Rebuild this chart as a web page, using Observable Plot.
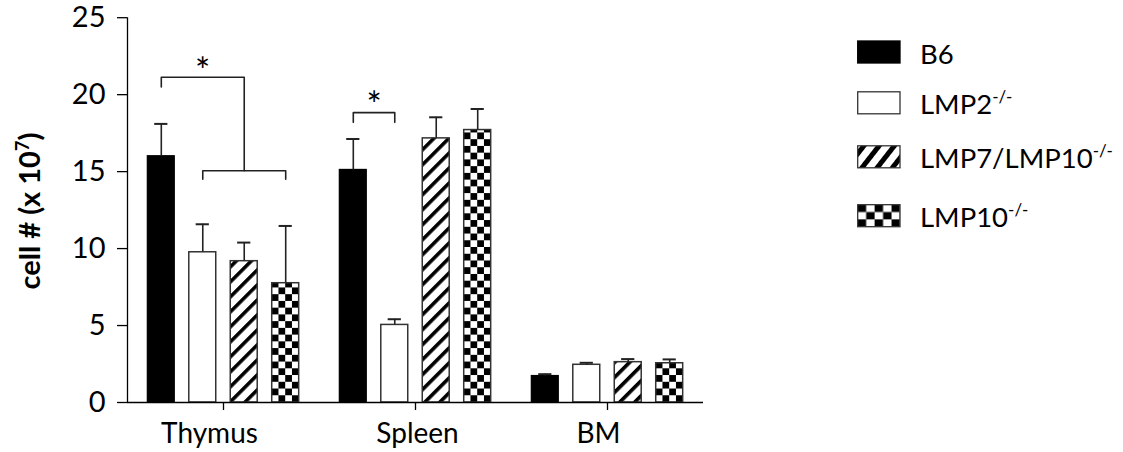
<!DOCTYPE html>
<html><head><meta charset="utf-8">
<script src="https://cdn.jsdelivr.net/npm/d3@7"></script>
<script src="https://cdn.jsdelivr.net/npm/@observablehq/plot@0.6"></script>
<style>
body{margin:0;background:#fff}
#chart{position:relative;width:1123px;height:452px}
#chart svg{display:block}
</style>
</head><body><div id="chart"></div>
<script>
// ---- data ----
const tissues = ["Thymus", "Spleen", "BM"];
const strains = ["B6", "LMP2", "LMP7/LMP10", "LMP10"];
const strainNames = ["B6", "LMP2", "LMP7/LMP10", "LMP10"];
const strainSup = ["", "-/-", "-/-", "-/-"];
const meanThymus = [16.0, 9.76, 9.18, 7.75];
const errThymus  = [2.1, 1.82, 1.21, 3.72];
const meanSpleen = [15.11, 5.04, 17.16, 17.7];
const errSpleen  = [2.01, 0.37, 1.37, 1.37];
const meanBM     = [1.72, 2.45, 2.62, 2.55];
const errBM      = [0.12, 0.13, 0.2, 0.25];
const yTicks = [0, 5, 10, 15, 20, 25];
// significance brackets (value units)
const thymusBracket = {upper: 21.13, upperLeg: 20.5, lower: 15.06, lowerLeg: 14.5, star: 21.44};
const spleenBracket = {top: 18.83, leg: 18.2, star: 19.25};

// ---- layout helpers ----
const inner = d3.scaleBand().domain(strains).range([0, 1]).paddingInner(0.35).paddingOuter(0.49);
const bw = inner.bandwidth();
const capHalf = bw * 0.245;
const means = [meanThymus, meanSpleen, meanBM];
const errs = [errThymus, errSpleen, errBM];
const rows = tissues.flatMap((t, ti) => strains.map((s, si) => ({
  tissue: t, strain: s, mean: means[ti][si], err: errs[ti][si],
  x1: ti + inner(s), x2: ti + inner(s) + bw, xc: ti + inner(s) + bw / 2
})));
const cx = (ti, s) => ti + inner(s) + bw / 2;
const byStrain = s => rows.filter(d => d.strain === s);

const brackets = [
  {k: "a", x: cx(0, "B6"), y: thymusBracket.upperLeg},
  {k: "a", x: cx(0, "B6"), y: thymusBracket.upper},
  {k: "a", x: cx(0, "LMP7/LMP10"), y: thymusBracket.upper},
  {k: "a", x: cx(0, "LMP7/LMP10"), y: thymusBracket.lower},
  {k: "b", x: cx(0, "LMP2"), y: thymusBracket.lowerLeg},
  {k: "b", x: cx(0, "LMP2"), y: thymusBracket.lower},
  {k: "b", x: cx(0, "LMP10"), y: thymusBracket.lower},
  {k: "b", x: cx(0, "LMP10"), y: thymusBracket.lowerLeg},
  {k: "c", x: cx(1, "B6"), y: spleenBracket.leg},
  {k: "c", x: cx(1, "B6"), y: spleenBracket.top},
  {k: "c", x: cx(1, "LMP2"), y: spleenBracket.top},
  {k: "c", x: cx(1, "LMP2"), y: spleenBracket.leg}
];
const stars = [
  {x: (cx(0, "B6") + cx(0, "LMP7/LMP10")) / 2, y: thymusBracket.star},
  {x: (cx(1, "B6") + cx(1, "LMP2")) / 2, y: spleenBracket.star}
];
const labelDx = [-14, 2, -9];
const ink = "#222";
const edge = "#333";

const plot = Plot.plot({
  width: 1123, height: 452,
  marginLeft: 127, marginRight: 420, marginTop: 17.2, marginBottom: 50,
  style: {fontFamily: "Lato, 'Open Sans', sans-serif", fontSize: "28px", color: "black", background: "white", overflow: "visible"},
  x: {domain: [0, 3]},
  y: {domain: [0, 25]},
  marks: [
    Plot.rect(byStrain("B6"), {x1: "x1", x2: "x2", y1: 0, y2: "mean", fill: "black", stroke: "black", strokeWidth: 1.2}),
    Plot.rect(byStrain("LMP2"), {x1: "x1", x2: "x2", y1: 0, y2: "mean", fill: "white", stroke: edge, strokeWidth: 1.5}),
    Plot.rect(byStrain("LMP7/LMP10"), {x1: "x1", x2: "x2", y1: 0, y2: "mean", fill: "url(#hatch)", stroke: edge, strokeWidth: 1.5}),
    Plot.rect(byStrain("LMP10"), {x1: "x1", x2: "x2", y1: 0, y2: "mean", fill: "url(#check)", stroke: edge, strokeWidth: 1.5}),
    Plot.ruleX(rows, {x: "xc", y1: "mean", y2: d => d.mean + d.err, stroke: ink, strokeWidth: 1.6}),
    Plot.ruleY(rows, {y: d => d.mean + d.err, x1: d => d.xc - capHalf, x2: d => d.xc + capHalf, stroke: ink, strokeWidth: 2}),
    Plot.line(brackets, {x: "x", y: "y", z: "k", stroke: ink, strokeWidth: 1.6, curve: "linear"}),
    Plot.text(stars, {x: "x", y: "y", text: () => "*", fontSize: 36, fill: "black"}),
    Plot.ruleX([0], {stroke: "black", strokeWidth: 1.3}),
    Plot.ruleY([0], {stroke: "black", strokeWidth: 1.3}),
    Plot.axisY({ticks: yTicks, tickSize: 10, tickPadding: 12, fontSize: 29, label: null, tickFormat: d => String(d), strokeWidth: 1.3}),
    Plot.axisX({ticks: [0.5, 1.5, 2.5], tickSize: 8, tickFormat: () => "", label: null, strokeWidth: 1.3}),
    ...tissues.map((t, i) => Plot.text([t], {x: () => i + 0.5, text: d => d, frameAnchor: "bottom", lineAnchor: "top", dy: 21, dx: labelDx[i], fontSize: 28, fill: "black"}))
  ]
});
document.getElementById("chart").appendChild(plot);

// ---- patterns, y label and legend ----
const svg = d3.select(plot);
const defs = svg.insert("defs", ":first-child");
const hatch = defs.append("pattern").attr("id", "hatch").attr("patternUnits", "userSpaceOnUse")
  .attr("width", 10.6).attr("height", 10.6).attr("patternTransform", "rotate(45)");
hatch.append("rect").attr("width", 10.6).attr("height", 10.6).attr("fill", "white");
hatch.append("rect").attr("width", 3.6).attr("height", 10.6).attr("fill", "black");

function checker(id, x, y, w, h) {
  const p = defs.append("pattern").attr("id", id).attr("patternUnits", "userSpaceOnUse")
    .attr("x", x).attr("y", y).attr("width", 2 * w).attr("height", 2 * h);
  p.append("rect").attr("width", 2 * w).attr("height", 2 * h).attr("fill", "white");
  p.append("rect").attr("width", w).attr("height", h).attr("fill", "black");
  p.append("rect").attr("x", w).attr("y", h).attr("width", w).attr("height", h).attr("fill", "black");
}
checker("check", 0, 0, 6.75, 6.75);
svg.selectAll("g[fill='url(#check)'] rect").each(function(_, i) {
  const x = +this.getAttribute("x"), y = +this.getAttribute("y"), w = +this.getAttribute("width"), h = +this.getAttribute("height");
  checker("check" + i, x, y + h, w / 4, w / 4);
  this.setAttribute("fill", "url(#check" + i + ")");
});

// legend hatch
const hatchL = defs.append("pattern").attr("id", "hatchL").attr("patternUnits", "userSpaceOnUse")
  .attr("width", 12).attr("height", 12).attr("patternTransform", "rotate(38)");
hatchL.append("rect").attr("width", 12).attr("height", 12).attr("fill", "white");
hatchL.append("rect").attr("width", 5).attr("height", 12).attr("fill", "black");

// y label
const yl = svg.append("text").attr("transform", "translate(40,211) rotate(-90)")
  .attr("text-anchor", "middle").attr("font-weight", "bold").attr("font-size", 29).attr("fill", "black");
yl.append("tspan").text("cell # (x 10");
yl.append("tspan").attr("dy", -11).attr("font-size", 18).text("7");
yl.append("tspan").attr("dy", 11).text(")");

// legend
const legendY = [52, 102.8, 156.8, 215.7];
const swX = 857.7, swW = 42.3, swH = 22;
const lg = svg.append("g").attr("text-anchor", "start");
strainNames.forEach((name, i) => {
  const y0 = legendY[i] - swH / 2;
  let fill = "black";
  if (i === 1) fill = "white";
  if (i === 2) fill = "url(#hatchL)";
  if (i === 3) { checker("checkL", swX, y0, swW / 5, swH / 3); fill = "url(#checkL)"; }
  lg.append("rect").attr("x", swX).attr("y", y0).attr("width", swW).attr("height", swH)
    .attr("fill", fill).attr("stroke", i === 0 ? "black" : edge).attr("stroke-width", 1.3);
  const t = lg.append("text").attr("x", 920).attr("y", legendY[i] + 11.5).attr("font-size", 27.5)
    .attr("text-anchor", "start").attr("fill", "black");
  t.append("tspan").text(name);
  if (strainSup[i]) t.append("tspan").attr("dy", -11).attr("font-size", 17).text(strainSup[i]);
});
</script>
</body></html>
